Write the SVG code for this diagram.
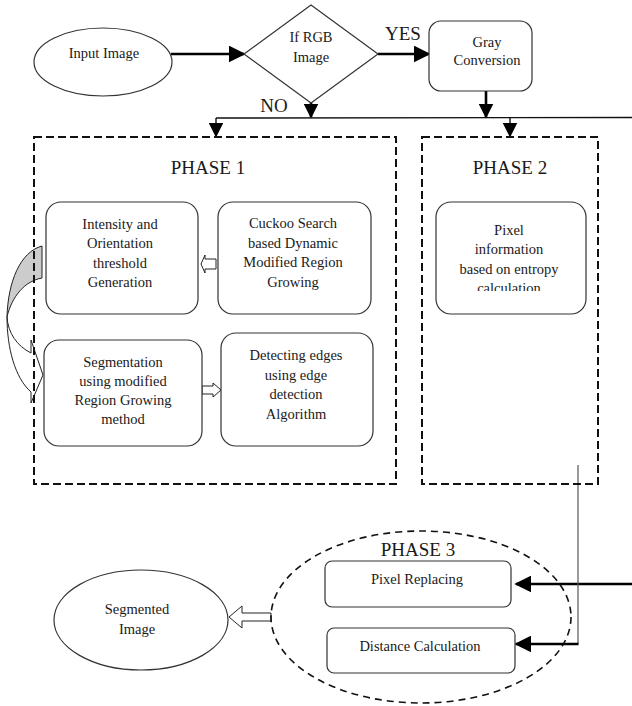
<svg xmlns="http://www.w3.org/2000/svg" width="632" height="706" viewBox="0 0 632 706">
<style>
text{font-family:"Liberation Serif","Times New Roman",serif;fill:#1a1a1a;text-anchor:middle}
.t{font-size:14.5px}
.big{font-size:19px}
.node{fill:#fff;stroke:#333;stroke-width:1.2}
.dash{fill:none;stroke:#111;stroke-width:2;stroke-dasharray:8 4}
.thick{fill:none;stroke:#000;stroke-width:2.6}
.thin{fill:none;stroke:#111;stroke-width:1.4}
.hollow{fill:#fff;stroke:#222;stroke-width:1}
</style>
<defs>
<marker id="ah" viewBox="0 0 10 10" refX="9" refY="5" markerWidth="17" markerHeight="17" markerUnits="userSpaceOnUse" orient="auto">
<path d="M0,0 L10,5 L0,10 z" fill="#000"/>
</marker>
<marker id="ahs" viewBox="0 0 10 10" refX="9" refY="5" markerWidth="15" markerHeight="15" markerUnits="userSpaceOnUse" orient="auto">
<path d="M0,0 L10,5 L0,10 z" fill="#000"/>
</marker>
<clipPath id="clipPix"><rect x="430" y="200" width="160" height="91"/></clipPath>
</defs>

<g id="connectors">
<line class="thick" x1="171" y1="54" x2="244" y2="54" marker-end="url(#ah)"/>
<line class="thick" x1="378" y1="54" x2="429" y2="54" marker-end="url(#ah)"/>
<line class="thick" x1="486" y1="91" x2="486" y2="117" marker-end="url(#ahs)"/>
<line class="thick" x1="311" y1="100" x2="311" y2="117" marker-end="url(#ahs)"/>
<line class="thin" x1="216" y1="118" x2="632" y2="117.5"/>
<line class="thin" x1="216" y1="118" x2="216" y2="136" marker-end="url(#ahs)"/>
<line class="thin" x1="510" y1="118" x2="510" y2="136" marker-end="url(#ahs)"/>
<line class="thick" x1="632" y1="584" x2="516" y2="584" marker-end="url(#ah)"/>
<polyline fill="none" stroke="#555" stroke-width="1.2" points="578,465 578,644"/>
<line class="thick" x1="578.5" y1="644" x2="516" y2="644" marker-end="url(#ah)"/>
<!-- hollow arrows -->
<path class="hollow" d="M216,259 L205,259 L205,255 L201,264 L205,273 L205,269 L216,269 Z"/>
<path class="hollow" d="M202,386 L213,386 L213,383 L221,390 L213,397 L213,394 L202,394 Z"/>
<path class="hollow" d="M271,613 L242,613 L242,606 L229,617 L242,628 L242,621 L271,621 Z"/>
<!-- curved arrow -->
<path d="M7,317 C7,348 15,378 31,392 L31,403 L43,375 L31,340 L31,353 C17,346 8,333 7,317 Z" fill="#fff" stroke="#222" stroke-width="1"/>
<path d="M42,246 C20,252 8,282 7,317 C12,296 25,281 42,278 Z" fill="#ccc" stroke="#222" stroke-width="1"/>
</g>

<g id="input-image">
<ellipse class="node" cx="103" cy="62" rx="69" ry="34"/>
<text class="t" x="104" y="58">Input Image</text>
</g>
<g id="if-rgb">
<polygon class="node" points="244,54 311,5 378,54 311,103"/>
<text class="t" x="311" y="42">If RGB</text>
<text class="t" x="311" y="62">Image</text>
</g>
<text class="big" x="403" y="40">YES</text>
<text class="big" x="274" y="112">NO</text>
<g id="gray-conversion">
<rect class="node" x="429" y="21" width="103" height="70" rx="12"/>
<text class="t" x="487" y="47">Gray</text>
<text class="t" x="487" y="65">Conversion</text>
</g>

<g id="phase1">
<rect class="dash" x="34" y="137" width="362" height="347"/>
<text class="big" x="208" y="174">PHASE 1</text>
</g>
<g id="phase2">
<rect class="dash" x="422" y="137" width="176" height="347"/>
<text class="big" x="510" y="174">PHASE 2</text>
</g>

<g id="intensity">
<rect class="node" x="46" y="202" width="152" height="112" rx="15"/>
<text class="t" x="120" y="229">Intensity and</text>
<text class="t" x="120" y="248">Orientation</text>
<text class="t" x="120" y="268">threshold</text>
<text class="t" x="120" y="287">Generation</text>
</g>
<g id="cuckoo">
<rect class="node" x="218" y="202" width="153" height="112" rx="15"/>
<text class="t" x="293" y="228">Cuckoo Search</text>
<text class="t" x="293" y="248">based Dynamic</text>
<text class="t" x="293" y="267">Modified Region</text>
<text class="t" x="293" y="287">Growing</text>
</g>
<g id="pixel-info">
<rect class="node" x="436" y="202" width="150" height="112" rx="15"/>
<g clip-path="url(#clipPix)">
<text class="t" x="509" y="235">Pixel</text>
<text class="t" x="509" y="254">information</text>
<text class="t" x="509" y="274">based on entropy</text>
<text class="t" x="509" y="293">calculation</text>
</g>
</g>
<g id="segmentation">
<rect class="node" x="44" y="340" width="158" height="106" rx="15"/>
<text class="t" x="123" y="367">Segmentation</text>
<text class="t" x="123" y="386">using modified</text>
<text class="t" x="123" y="405">Region Growing</text>
<text class="t" x="123" y="424">method</text>
</g>
<g id="detecting">
<rect class="node" x="221" y="333" width="152" height="113" rx="15"/>
<text class="t" x="296" y="360">Detecting edges</text>
<text class="t" x="296" y="380">using edge</text>
<text class="t" x="296" y="399">detection</text>
<text class="t" x="296" y="419">Algorithm</text>
</g>

<g id="phase3">
<ellipse cx="421" cy="617" rx="150" ry="86" fill="none" stroke="#111" stroke-width="1.6" stroke-dasharray="7 5"/>
<text class="big" x="418" y="556">PHASE 3</text>
</g>
<g id="pixel-replacing">
<rect class="node" x="325" y="561" width="186" height="46" rx="7"/>
<text class="t" x="417" y="584">Pixel Replacing</text>
</g>
<g id="distance-calculation">
<rect class="node" x="327" y="628" width="188" height="45" rx="7"/>
<text class="t" x="420" y="651">Distance Calculation</text>
</g>
<g id="segmented-image">
<ellipse class="node" cx="141" cy="620" rx="87" ry="50"/>
<text class="t" x="137" y="614">Segmented</text>
<text class="t" x="137" y="634">Image</text>
</g>
</svg>
